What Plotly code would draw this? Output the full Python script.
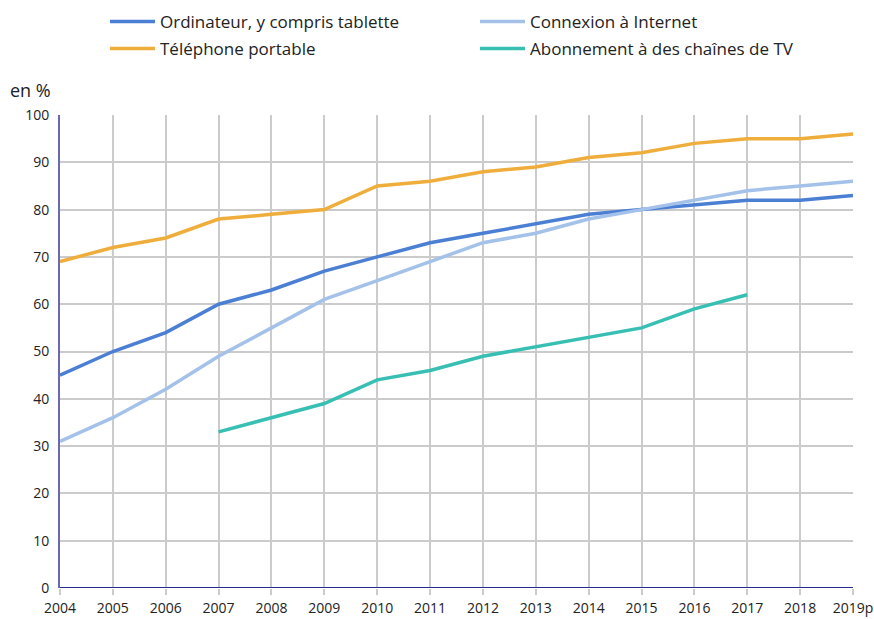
import plotly.graph_objects as go

years = ["2004", "2005", "2006", "2007", "2008", "2009", "2010", "2011",
         "2012", "2013", "2014", "2015", "2016", "2017", "2018", "2019p"]

ordinateur = [45, 50, 54, 60, 63, 67, 70, 73, 75, 77, 79, 80, 81, 82, 82, 83]
internet = [31, 36, 42, 49, 55, 61, 65, 69, 73, 75, 78, 80, 82, 84, 85, 86]
telephone = [69, 72, 74, 78, 79, 80, 85, 86, 88, 89, 91, 92, 94, 95, 95, 96]
tv_years = ["2007", "2008", "2009", "2010", "2011", "2012", "2013", "2014",
            "2015", "2016", "2017"]
tv = [33, 36, 39, 44, 46, 49, 51, 53, 55, 59, 62]

# name, x, y, colour, legend id
series = [
    ("Ordinateur, y compris tablette", years, ordinateur, "#4a7fd4", "legend"),
    ("Connexion à Internet", years, internet, "#a4c1ea", "legend2"),
    ("Téléphone portable", years, telephone, "#efae3b", "legend3"),
    ("Abonnement à des chaînes de TV", tv_years, tv, "#38bfb3", "legend4"),
]

W, H = 874, 619

fig = go.Figure()
for name, x, y, color, lg in series:
    fig.add_trace(go.Scatter(
        x=x, y=y, name=name, mode="lines", legend=lg,
        line=dict(color=color, width=3.5),
    ))

# one legend per entry so the 2x2 grid sits where the reference has it
def legend_box(x, y):
    return dict(
        xref="container", yref="container", x=x, y=y,
        xanchor="left", yanchor="middle", orientation="v",
        bgcolor="rgba(0,0,0,0)", itemwidth=45,
        font=dict(family="Open Sans", size=17, color="#222222"),
    )

fig.update_layout(
    width=W, height=H,
    margin=dict(l=60, r=21, t=115, b=31, autoexpand=False),
    paper_bgcolor="white",
    plot_bgcolor="white",
    font=dict(family="Open Sans", size=14, color="#222222"),
    showlegend=True,
    legend=legend_box(105 / W, 1 - 22 / H),
    legend2=legend_box(475 / W, 1 - 22 / H),
    legend3=legend_box(105 / W, 1 - 49 / H),
    legend4=legend_box(475 / W, 1 - 49 / H),
    xaxis=dict(
        type="category", categoryorder="array", categoryarray=years,
        range=[0, 15], showgrid=True, gridcolor="#cbcbcb", gridwidth=1.5,
        ticks="outside", ticklen=6, tickcolor="#cbcbcb", tickwidth=1.5,
        ticklabelstandoff=1, ticklabeloverflow="allow",
        tickfont=dict(size=14), zeroline=False,
    ),
    yaxis=dict(
        range=[0, 100], dtick=10, showgrid=True, gridcolor="#cbcbcb",
        gridwidth=1.5, showline=True, linecolor="#6a68b0", linewidth=2,
        zeroline=False, ticks="", ticklabelstandoff=6,
        tickfont=dict(size=14),
    ),
    annotations=[dict(
        text="en %", xref="paper", yref="paper", x=-0.0656, y=1.053,
        xanchor="left", yanchor="middle", showarrow=False,
        font=dict(size=18, color="#222222"),
    )],
    shapes=[dict(
        type="line", xref="paper", yref="y", x0=0, x1=1, y0=0, y1=0,
        line=dict(color="#2b2d8c", width=2),
    )],
)

# drop the default 8px body margin so the full-size figure fits the window
fig.write_html(
    "out.html",
    config={"displayModeBar": False},
    post_script="document.body.style.margin = '0';",
)
